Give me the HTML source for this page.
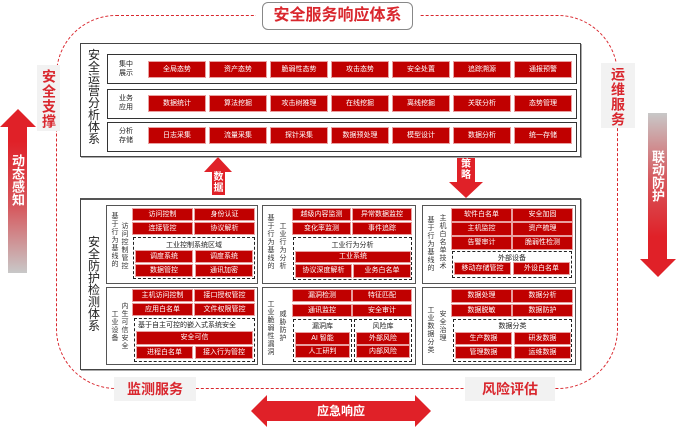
<!DOCTYPE html>
<html><head><meta charset="utf-8"><style>
*{margin:0;padding:0;box-sizing:border-box}
body{width:680px;height:428px;background:#fff;position:relative;overflow:hidden;font-family:"Liberation Sans","Noto Sans CJK SC",sans-serif}
div{position:absolute}
.b{background:#c00000;color:#fff;font-size:7px;text-align:center;outline:1px solid #e9a0a0;white-space:nowrap;overflow:hidden}
.row{border:1px solid #333;background:#fff}
.v{writing-mode:vertical-rl;font-size:7px;color:#333;letter-spacing:1px;line-height:8px}
.cell{border:1px solid #555;background:#fff}
.d{border:1px dashed #222;background:#fff}
.t{font-size:7px;color:#222;text-align:center;white-space:nowrap}
.lab{font-size:7px;color:#222;line-height:9px;text-align:center;width:20px}
</style></head><body>
<!-- dashed loop -->
<div style="left:56px;top:15px;width:562px;height:374px;border:1.3px dashed #d9272e;border-radius:60px"></div>
<!-- title -->
<div style="left:262px;top:2px;width:151px;height:28px;background:#fff;border:1.3px solid #888;border-radius:6px;color:#d9272e;font-size:16px;font-weight:bold;text-align:center;line-height:26px;box-shadow:0 0 0 6px #fff">安全服务响应体系</div>
<!-- side labels -->
<div style="left:37px;top:65px;width:23px;height:66px;background:#f2f2f2;color:#d9272e;font-size:14px;font-weight:bold;writing-mode:vertical-rl;text-align:center;line-height:23px;letter-spacing:1px;padding-top:2px">安全支撑</div>
<div style="left:601px;top:63px;width:34px;height:65px;background:#f2f2f2;color:#d9272e;font-size:14px;font-weight:bold;writing-mode:vertical-rl;text-align:center;line-height:34px;letter-spacing:1px;padding-top:2px">运维服务</div>
<!-- left arrow -->
<div style="left:0;top:109px;width:0;height:0;border-left:18px solid transparent;border-right:18px solid transparent;border-bottom:18px solid #e02128"></div>
<div style="left:8px;top:127px;width:19px;height:146px;background:linear-gradient(#e02128 10%,#d6595e 55%,#c8c8c8);color:#fff;font-size:13px;font-weight:bold;writing-mode:vertical-rl;line-height:19px;padding-top:27px">动态感知</div>
<!-- right arrow -->
<div style="left:648px;top:113px;width:19px;height:146px;background:linear-gradient(#c8c8c8,#d6595e 45%,#e02128 85%);color:#fff;font-size:13px;font-weight:bold;writing-mode:vertical-rl;line-height:19px;padding-top:37px">联动防护</div>
<div style="left:640px;top:259px;width:0;height:0;border-left:18px solid transparent;border-right:18px solid transparent;border-top:18px solid #e02128"></div>

<!-- top box -->
<div style="left:80px;top:43px;width:501px;height:114px;border:1.3px solid #444;background:#fff;box-shadow:1px 1px 0 #aaa"></div>
<div style="left:87px;top:49px;width:14px;font-size:12px;line-height:12px;color:#222;text-align:center">安全运营分析体系</div>
<div class="row" style="left:107px;top:54px;width:470px;height:30px"></div>
<div class="row" style="left:107px;top:89px;width:470px;height:30px"></div>
<div class="row" style="left:107px;top:122px;width:470px;height:30px"></div>
<div class="lab" style="left:116px;top:60px">集中<br>展示</div>
<div class="lab" style="left:116px;top:94px">业务<br>应用</div>
<div class="lab" style="left:116px;top:127px">分析<br>存储</div>

<div class="b" style="left:149px;top:62px;width:56px;height:15px;line-height:15px">全局态势</div>
<div class="b" style="left:210px;top:62px;width:56px;height:15px;line-height:15px">资产态势</div>
<div class="b" style="left:271px;top:62px;width:56px;height:15px;line-height:15px">脆弱性态势</div>
<div class="b" style="left:332px;top:62px;width:56px;height:15px;line-height:15px">攻击态势</div>
<div class="b" style="left:393px;top:62px;width:56px;height:15px;line-height:15px">安全处置</div>
<div class="b" style="left:454px;top:62px;width:56px;height:15px;line-height:15px">追踪溯源</div>
<div class="b" style="left:515px;top:62px;width:56px;height:15px;line-height:15px">通报预警</div>

<div class="b" style="left:149px;top:96px;width:56px;height:15px;line-height:15px">数据统计</div>
<div class="b" style="left:210px;top:96px;width:56px;height:15px;line-height:15px">算法挖掘</div>
<div class="b" style="left:271px;top:96px;width:56px;height:15px;line-height:15px">攻击树推理</div>
<div class="b" style="left:332px;top:96px;width:56px;height:15px;line-height:15px">在线挖掘</div>
<div class="b" style="left:393px;top:96px;width:56px;height:15px;line-height:15px">离线挖掘</div>
<div class="b" style="left:454px;top:96px;width:56px;height:15px;line-height:15px">关联分析</div>
<div class="b" style="left:515px;top:96px;width:56px;height:15px;line-height:15px">态势管理</div>

<div class="b" style="left:149px;top:128px;width:56px;height:15px;line-height:15px">日志采集</div>
<div class="b" style="left:210px;top:128px;width:56px;height:15px;line-height:15px">流量采集</div>
<div class="b" style="left:271px;top:128px;width:56px;height:15px;line-height:15px">探针采集</div>
<div class="b" style="left:332px;top:128px;width:56px;height:15px;line-height:15px">数据预处理</div>
<div class="b" style="left:393px;top:128px;width:56px;height:15px;line-height:15px">模型设计</div>
<div class="b" style="left:454px;top:128px;width:56px;height:15px;line-height:15px">数据分析</div>
<div class="b" style="left:515px;top:128px;width:56px;height:15px;line-height:15px">统一存储</div>

<!-- mid arrows -->
<div style="left:204px;top:157px;width:0;height:0;border-left:14px solid transparent;border-right:14px solid transparent;border-bottom:15px solid #e02128"></div>
<div style="left:212px;top:172px;width:13px;height:23px;background:#e02128;color:#fff;font-size:10px;font-weight:bold;line-height:11px;text-align:center">数据</div>
<div style="left:457px;top:158px;width:18px;height:24px;background:#e02128;color:#fff;font-size:10px;font-weight:bold;line-height:11px;text-align:center;padding-top:1px">策略</div>
<div style="left:449px;top:182px;width:0;height:0;border-left:17px solid transparent;border-right:17px solid transparent;border-top:16px solid #e02128"></div>

<!-- bottom box -->
<div style="left:80px;top:198px;width:501px;height:172px;border:1.3px solid #444;border-top:2.5px solid #555;background:#fff;box-shadow:1px 1px 0 #aaa"></div>
<div style="left:87px;top:236px;width:14px;font-size:12px;line-height:12px;color:#222;text-align:center">安全防护检测体系</div>

<!-- cell1 -->
<div class="cell" style="left:106px;top:205px;width:152px;height:79px"></div>
<div class="v" style="left:110px;top:212px">基于行为基线的</div>
<div class="v" style="left:120px;top:222px">访问控制管控</div>
<div class="b" style="left:133px;top:209px;width:59px;height:11px;line-height:11px">访问控制</div>
<div class="b" style="left:195px;top:209px;width:59px;height:11px;line-height:11px">身份认证</div>
<div class="b" style="left:133px;top:223px;width:59px;height:11px;line-height:11px">连接管控</div>
<div class="b" style="left:195px;top:223px;width:59px;height:11px;line-height:11px">协议解析</div>
<div class="d" style="left:133px;top:237px;width:122px;height:42px"></div>
<div class="t" style="left:133px;top:240px;width:122px">工业控制系统区域</div>
<div class="b" style="left:136px;top:251px;width:56px;height:11px;line-height:11px">调度系统</div>
<div class="b" style="left:196px;top:251px;width:56px;height:11px;line-height:11px">调度系统</div>
<div class="b" style="left:136px;top:265px;width:56px;height:11px;line-height:11px">数据管控</div>
<div class="b" style="left:196px;top:265px;width:56px;height:11px;line-height:11px">通讯加密</div>

<!-- cell2 -->
<div class="cell" style="left:262px;top:205px;width:154px;height:79px"></div>
<div class="v" style="left:266px;top:214px">基于行为基线的</div>
<div class="v" style="left:278px;top:222px">工业行为分析</div>
<div class="b" style="left:293px;top:209px;width:57px;height:11px;line-height:11px">越级内容监测</div>
<div class="b" style="left:353px;top:209px;width:58px;height:11px;line-height:11px">异常数据监控</div>
<div class="b" style="left:293px;top:223px;width:57px;height:11px;line-height:11px">变化率监测</div>
<div class="b" style="left:353px;top:223px;width:58px;height:11px;line-height:11px">事件追踪</div>
<div class="d" style="left:293px;top:237px;width:119px;height:43px"></div>
<div class="t" style="left:293px;top:240px;width:119px">工业行为分析</div>
<div class="b" style="left:296px;top:252px;width:114px;height:10px;line-height:10px">工业系统</div>
<div class="b" style="left:296px;top:265px;width:55px;height:12px;line-height:12px">协议深度解析</div>
<div class="b" style="left:354px;top:265px;width:56px;height:12px;line-height:12px">业务白名单</div>

<!-- cell3 -->
<div class="cell" style="left:422px;top:205px;width:154px;height:79px"></div>
<div class="v" style="left:426px;top:216px">基于行为基线的</div>
<div class="v" style="left:438px;top:214px">主机白名单技术</div>
<div class="b" style="left:452px;top:209px;width:59px;height:12px;line-height:12px">软件白名单</div>
<div class="b" style="left:513px;top:209px;width:59px;height:12px;line-height:12px">安全加固</div>
<div class="b" style="left:452px;top:223px;width:59px;height:12px;line-height:12px">主机监控</div>
<div class="b" style="left:513px;top:223px;width:59px;height:12px;line-height:12px">资产梳理</div>
<div class="b" style="left:452px;top:237px;width:59px;height:12px;line-height:12px">告警审计</div>
<div class="b" style="left:513px;top:237px;width:59px;height:12px;line-height:12px">脆弱性检测</div>
<div class="d" style="left:452px;top:251px;width:120px;height:27px"></div>
<div class="t" style="left:452px;top:253px;width:120px">外部设备</div>
<div class="b" style="left:455px;top:263px;width:55px;height:11px;line-height:11px">移动存储管控</div>
<div class="b" style="left:514px;top:263px;width:55px;height:11px;line-height:11px">外设白名单</div>

<!-- cell4 -->
<div class="cell" style="left:106px;top:287px;width:152px;height:78px"></div>
<div class="v" style="left:110px;top:310px">工业设备</div>
<div class="v" style="left:120px;top:302px">内生可信安全</div>
<div class="b" style="left:133px;top:290px;width:59px;height:11px;line-height:11px">主机访问控制</div>
<div class="b" style="left:195px;top:290px;width:59px;height:11px;line-height:11px">接口授权管控</div>
<div class="b" style="left:133px;top:304px;width:59px;height:11px;line-height:11px">应用白名单</div>
<div class="b" style="left:195px;top:304px;width:59px;height:11px;line-height:11px">文件权限管控</div>
<div class="d" style="left:134px;top:318px;width:121px;height:44px"></div>
<div class="t" style="left:138px;top:320px;text-align:left">基于自主可控的嵌入式系统安全</div>
<div class="b" style="left:137px;top:332px;width:115px;height:12px;line-height:12px">安全可信</div>
<div class="b" style="left:137px;top:347px;width:55px;height:11px;line-height:11px">进程白名单</div>
<div class="b" style="left:196px;top:347px;width:56px;height:11px;line-height:11px">接入行为管控</div>

<!-- cell5 -->
<div class="cell" style="left:262px;top:287px;width:154px;height:78px"></div>
<div class="v" style="left:266px;top:300px">工业脆弱性漏洞</div>
<div class="v" style="left:278px;top:310px">威胁防护</div>
<div class="b" style="left:293px;top:290px;width:58px;height:11px;line-height:11px">漏洞检测</div>
<div class="b" style="left:353px;top:290px;width:58px;height:11px;line-height:11px">特征匹配</div>
<div class="b" style="left:293px;top:305px;width:58px;height:11px;line-height:11px">通讯监控</div>
<div class="b" style="left:353px;top:305px;width:58px;height:11px;line-height:11px">安全审计</div>
<div class="d" style="left:293px;top:319px;width:59px;height:43px"></div>
<div class="d" style="left:354px;top:319px;width:58px;height:43px"></div>
<div class="t" style="left:293px;top:321px;width:59px">漏洞库</div>
<div class="t" style="left:354px;top:321px;width:58px">风险库</div>
<div class="b" style="left:296px;top:333px;width:53px;height:11px;line-height:11px">AI 智能</div>
<div class="b" style="left:357px;top:333px;width:52px;height:11px;line-height:11px">外部风险</div>
<div class="b" style="left:296px;top:346px;width:53px;height:11px;line-height:11px">人工研判</div>
<div class="b" style="left:357px;top:346px;width:52px;height:11px;line-height:11px">内部风险</div>

<!-- cell6 -->
<div class="cell" style="left:422px;top:287px;width:154px;height:78px"></div>
<div class="v" style="left:426px;top:306px">工业数据分类</div>
<div class="v" style="left:438px;top:310px">安全治理</div>
<div class="b" style="left:452px;top:290px;width:59px;height:12px;line-height:12px">数据处理</div>
<div class="b" style="left:513px;top:290px;width:59px;height:12px;line-height:12px">数据分析</div>
<div class="b" style="left:452px;top:305px;width:59px;height:11px;line-height:11px">数据脱敏</div>
<div class="b" style="left:513px;top:305px;width:59px;height:11px;line-height:11px">数据防护</div>
<div class="d" style="left:453px;top:319px;width:119px;height:43px"></div>
<div class="t" style="left:453px;top:321px;width:119px">数据分类</div>
<div class="b" style="left:456px;top:333px;width:55px;height:11px;line-height:11px">生产数据</div>
<div class="b" style="left:515px;top:333px;width:55px;height:11px;line-height:11px">研发数据</div>
<div class="b" style="left:456px;top:347px;width:55px;height:11px;line-height:11px">管理数据</div>
<div class="b" style="left:515px;top:347px;width:55px;height:11px;line-height:11px">运维数据</div>

<!-- bottom labels -->
<div style="left:114px;top:377px;width:82px;height:24px;background:#f2f2f2;color:#d9272e;font-size:14px;font-weight:bold;text-align:center;line-height:24px">监测服务</div>
<div style="left:465px;top:377px;width:90px;height:24px;background:#f2f2f2;color:#d9272e;font-size:14px;font-weight:bold;text-align:center;line-height:24px">风险评估</div>
<!-- double arrow -->
<div style="left:251px;top:395px;width:0;height:0;border-top:16px solid transparent;border-bottom:16px solid transparent;border-right:16px solid #e02128"></div>
<div style="left:267px;top:401px;width:148px;height:20px;background:#e02128;color:#fff;font-size:12px;font-weight:bold;text-align:center;line-height:20px">应急响应</div>
<div style="left:415px;top:395px;width:0;height:0;border-top:16px solid transparent;border-bottom:16px solid transparent;border-left:16px solid #e02128"></div>
</body></html>
